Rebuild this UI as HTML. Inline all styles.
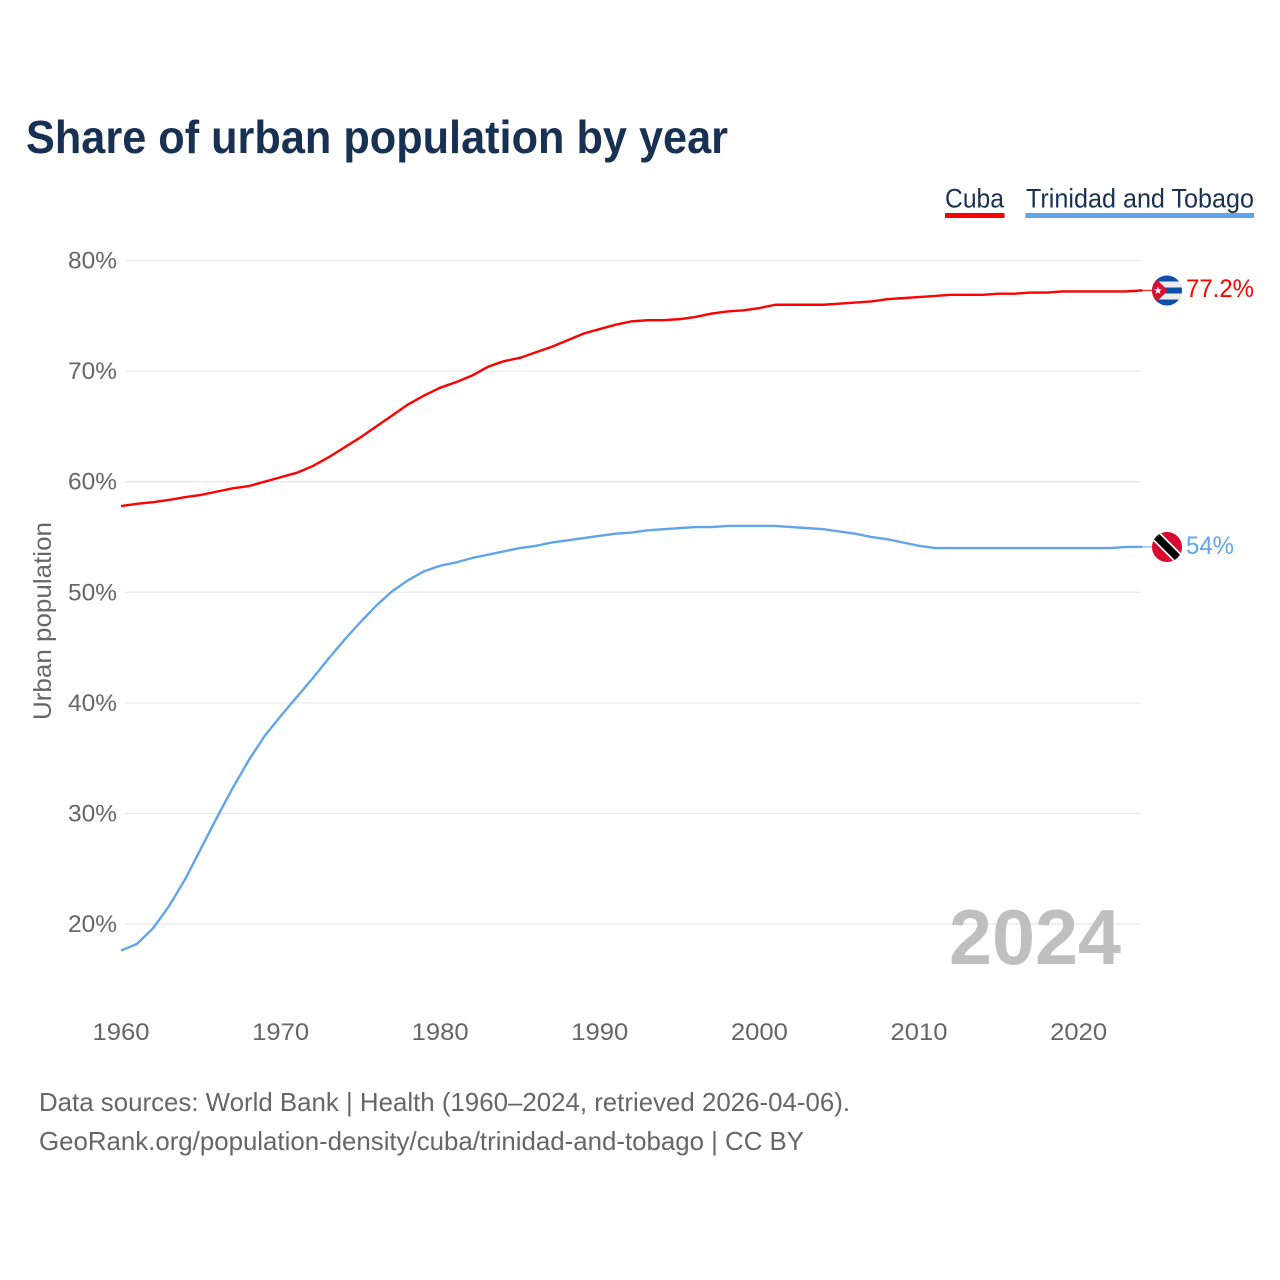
<!DOCTYPE html>
<html>
<head>
<meta charset="utf-8">
<style>
html,body{margin:0;padding:0;background:#fff;}
svg{display:block;}
text{font-family:"Liberation Sans",sans-serif;}
</style>
</head>
<body>
<svg id="chart" xmlns="http://www.w3.org/2000/svg" width="1280" height="1280" viewBox="0 0 1280 1280">
  <defs>
    <clipPath id="flag-clip-a"><circle cx="1167" cy="290.5" r="15"/></clipPath>
    <clipPath id="flag-clip-b"><circle cx="1167" cy="547" r="15"/></clipPath>
  </defs>
  <text x="26" y="153" font-size="46" font-weight="700" fill="#183153" textLength="702" lengthAdjust="spacingAndGlyphs">Share of urban population by year</text>

  <g>
    <text x="945" y="207.5" font-size="27" fill="#183153" textLength="59" lengthAdjust="spacingAndGlyphs">Cuba</text>
    <rect x="945" y="213" width="59.5" height="5" fill="#ff0000"/>
  </g>
  <g>
    <text x="1026" y="207.5" font-size="27" fill="#183153" textLength="228" lengthAdjust="spacingAndGlyphs">Trinidad and Tobago</text>
    <rect x="1025.5" y="213" width="228.5" height="5" fill="#60a5ec"/>
  </g>

  <g id="grid"></g>
  <g id="yticks"></g>
  <g id="xticks"></g>

  <text transform="translate(51,720) rotate(-90)" x="0" y="0" font-size="25" fill="#666666" textLength="198" lengthAdjust="spacingAndGlyphs">Urban population</text>

  <text x="949" y="964" font-size="78" font-weight="700" fill="#bfbfbf" textLength="172" lengthAdjust="spacingAndGlyphs">2024</text>

  <g id="series"></g>

  <g id="flags">
    <g clip-path="url(#flag-clip-a)">
      <rect x="1152" y="275" width="30" height="31" fill="#0b4fa8"/>
      <rect x="1152" y="281.5" width="30" height="6" fill="#ececec"/>
      <rect x="1152" y="293.5" width="30" height="6" fill="#ececec"/>
      <polygon points="1152,275 1152,306 1168,290.5" fill="#d8102f"/>
      <polygon points="1158,286.5 1159,289.3 1162,289.3 1159.6,291.1 1160.5,294 1158,292.3 1155.5,294 1156.4,291.1 1154,289.3 1157,289.3" fill="#ffffff"/>
    </g>
    <g clip-path="url(#flag-clip-b)">
      <rect x="1152" y="532" width="30" height="30" fill="#da0a30"/>
      <line x1="1152" y1="532" x2="1182" y2="562" stroke="#ffffff" stroke-width="11"/>
      <line x1="1152" y1="532" x2="1182" y2="562" stroke="#000000" stroke-width="7.5"/>
    </g>
  </g>

  <text x="1186" y="297" font-size="25" fill="#ff0000" textLength="68" lengthAdjust="spacingAndGlyphs">77.2%</text>
  <text x="1186" y="554" font-size="25" fill="#60a5ec" textLength="48" lengthAdjust="spacingAndGlyphs">54%</text>

  <text x="39" y="1111" font-size="26" fill="#666666" textLength="811" lengthAdjust="spacingAndGlyphs">Data sources: World Bank | Health (1960–2024, retrieved 2026-04-06).</text>
  <text x="39" y="1150" font-size="26" fill="#666666" textLength="765" lengthAdjust="spacingAndGlyphs">GeoRank.org/population-density/cuba/trinidad-and-tobago | CC BY</text>
</svg>
<script>
const startYear = 1960;
const cubaValues = [57.8,58.0,58.15,58.35,58.6,58.8,59.1,59.4,59.6,60.0,60.4,60.8,61.4,62.2,63.1,64.0,65.0,66.0,67.0,67.8,68.5,69.0,69.6,70.4,70.9,71.2,71.7,72.2,72.8,73.4,73.8,74.2,74.5,74.6,74.6,74.7,74.9,75.2,75.4,75.5,75.7,76.0,76.0,76.0,76.0,76.1,76.2,76.3,76.5,76.6,76.7,76.8,76.9,76.9,76.9,77.0,77.0,77.1,77.1,77.2,77.2,77.2,77.2,77.2,77.3];
const trinidadValues = [17.6,18.2,19.6,21.6,24.0,26.8,29.6,32.3,34.8,37.0,38.8,40.5,42.2,44.0,45.7,47.3,48.8,50.1,51.1,51.9,52.4,52.7,53.1,53.4,53.7,54.0,54.2,54.5,54.7,54.9,55.1,55.3,55.4,55.6,55.7,55.8,55.9,55.9,56.0,56.0,56.0,56.0,55.9,55.8,55.7,55.5,55.3,55.0,54.8,54.5,54.2,54.0,54.0,54.0,54.0,54.0,54.0,54.0,54.0,54.0,54.0,54.0,54.0,54.1,54.1];
const yTickValues = [20,30,40,50,60,70,80];
const xTickValues = [1960,1970,1980,1990,2000,2010,2020];

const NS = 'http://www.w3.org/2000/svg';
function xScale(year){ return 121 + (year - 1960) * 15.96; }
function yScale(pct){ return 924 - (pct - 20) * 11.058; }
function make(tag, parent, attrs){
  const el = document.createElementNS(NS, tag);
  Object.keys(attrs).forEach(function(k){ el.setAttribute(k, attrs[k]); });
  parent.appendChild(el);
  return el;
}

const gridGroup = document.getElementById('grid');
const yGroup = document.getElementById('yticks');
const xGroup = document.getElementById('xticks');
const seriesGroup = document.getElementById('series');

yTickValues.forEach(function(v){
  const line = make('line', gridGroup, {x1:125, x2:1141, y1:yScale(v), y2:yScale(v), stroke:'#e8e8e8', 'stroke-width':1.3});
  
  
  const label = make('text', yGroup, {x:68, y:yScale(v)+8, 'font-size':24, fill:'#666666', textLength:49, lengthAdjust:'spacingAndGlyphs'});
  
  
  label.textContent = v + '%';
});

xTickValues.forEach(function(y){
  const label = make('text', xGroup, {x:xScale(y)-28.5, y:1040, 'font-size':24, fill:'#666666', textLength:57, lengthAdjust:'spacingAndGlyphs'});
  
  
  label.textContent = y;
});

function drawSeries(values, color, name){
  const pts = values.map(function(v, i){ return xScale(startYear + i).toFixed(2) + ',' + yScale(v).toFixed(2); });
  const line = make('polyline', seriesGroup, {points:pts.join(' '), fill:'none', stroke:color, 'stroke-width':2.4, 'stroke-linejoin':'round'});
  
  
  const lastY = yScale(values[values.length - 1]);
  const lastX = xScale(startYear + values.length - 1);
  const conn = make('line', seriesGroup, {x1:lastX, x2:1153, y1:lastY, y2:lastY, stroke:color, 'stroke-width':1});
  
  
}
drawSeries(cubaValues, '#ff0000', 'cuba');
drawSeries(trinidadValues, '#60a5ec', 'trinidad-and-tobago');
</script>
</body>
</html>
